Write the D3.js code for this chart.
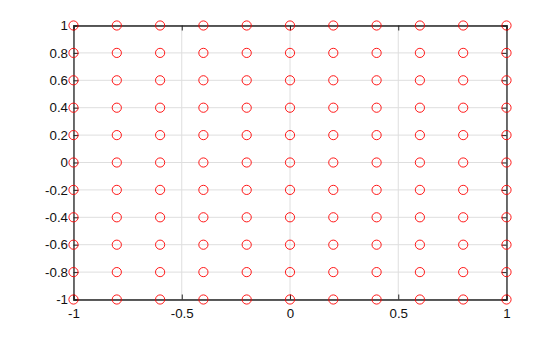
<!DOCTYPE html>
<html><head><meta charset="utf-8">
<script src="https://cdn.jsdelivr.net/npm/d3@7"></script>
<style>body{margin:0;background:#fff}svg{display:block}</style>
</head><body>
<svg id="c" width="560" height="337"></svg>
<script>
const xValues = [-1,-0.8,-0.6,-0.4,-0.2,0,0.2,0.4,0.6,0.8,1];
const yValues = [-1,-0.8,-0.6,-0.4,-0.2,0,0.2,0.4,0.6,0.8,1];
const xTicks = [-1,-0.5,0,0.5,1];
const yTicks = [-1,-0.8,-0.6,-0.4,-0.2,0,0.2,0.4,0.6,0.8,1];

(function(){
const svg = d3.select("#c");
const L=73.5, R=506.5, T=25.5, B=299.5;
const x = d3.scaleLinear().domain([-1,1]).range([L,R]);
const y = d3.scaleLinear().domain([-1,1]).range([B,T]);
const fmt = d => String(d);
const font = "Liberation Sans, Arial, Helvetica, sans-serif";

const g = svg.append("g");
g.selectAll("line.gx").data(xTicks).join("line")
  .attr("x1",d=>x(d)).attr("x2",d=>x(d)).attr("y1",T).attr("y2",B)
  .attr("stroke","#dedede").attr("stroke-width",1);
g.selectAll("line.gy").data(yTicks).join("line")
  .attr("y1",d=>y(d)).attr("y2",d=>y(d)).attr("x1",L).attr("x2",R)
  .attr("stroke","#dedede").attr("stroke-width",1);

const axB = svg.append("g").attr("transform",`translate(0,${B})`)
  .call(d3.axisBottom(x).tickValues(xTicks).tickSize(-5).tickPadding(9).tickFormat(fmt));
const axT = svg.append("g").attr("transform",`translate(0,${T})`)
  .call(d3.axisTop(x).tickValues(xTicks).tickSize(-5).tickFormat(""));
const axL = svg.append("g").attr("transform",`translate(${L},0)`)
  .call(d3.axisLeft(y).tickValues(yTicks).tickSize(-5).tickPadding(5.5).tickFormat(fmt));
const axR = svg.append("g").attr("transform",`translate(${R},0)`)
  .call(d3.axisRight(y).tickValues(yTicks).tickSize(-5).tickFormat(""));
[axB,axT,axL,axR].forEach(a=>{
  a.select(".domain").attr("stroke","#262626").attr("stroke-width",1.3);
  a.selectAll(".tick line").attr("stroke","#262626");
  a.selectAll("text").attr("fill","#111").style("font-family",font).style("font-size","13.3px");
});

const pts = [];
yValues.forEach(yy=>xValues.forEach(xx=>pts.push([xx,yy])));
svg.append("g").selectAll("circle").data(pts).join("circle")
  .attr("cx",d=>x(d[0])).attr("cy",d=>y(d[1])).attr("r",4.6)
  .attr("fill","none").attr("stroke","#ff0000").attr("stroke-width",0.9);
})();
</script>
</body></html>
